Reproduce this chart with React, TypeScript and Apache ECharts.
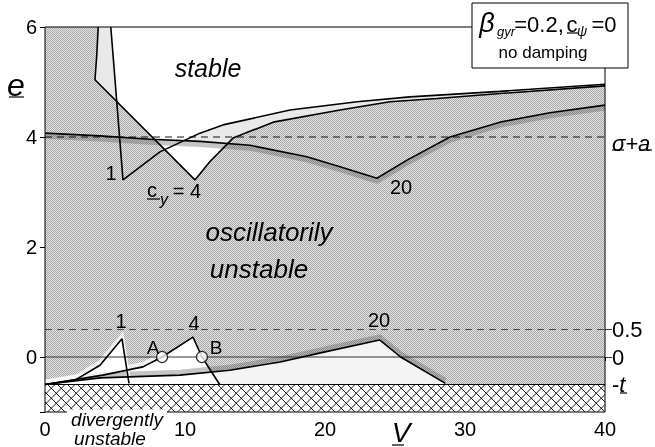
import React, { useEffect, useRef } from 'react';
import * as echarts from 'echarts';

const FONT = "'Liberation Sans', Arial, Helvetica, sans-serif";

// axes
const vMin = 0;
const vMax = 40;
const vStep = 10;
const eMin = -1;
const eMax = 6;
const eTickValues = [-1, 0, 2, 4, 6];
const eLabelValues = [0, 2, 4, 6];

// reference levels
const levelSigmaA = 4;
const levelHalf = 0.5;
const levelZero = 0;
const levelMinusT = -0.5;
const rightLabelValues = [levelSigmaA, levelHalf, levelZero, levelMinusT];
const rightLabelTexts = ['{s|σ+a}', '0.5', '0', '-{i|t}'];
const rightTickValues = [levelHalf, levelZero];

// upper stability boundaries (V, e)
const cy1Upper = [[4.7, 6], [5.57, 3.22], [8.21, 3.73], [11.07, 4.07], [12.71, 4.22], [17.5, 4.49], [22.29, 4.64], [26.07, 4.73], [32.5, 4.83], [40, 4.96]];
const cy4Upper = [[3.8, 6], [3.7, 5.5], [3.57, 5.04], [10.71, 3.22], [11.8, 3.56], [13.43, 3.98], [16.3, 4.27], [21.07, 4.49], [24.64, 4.64], [28, 4.7], [32.5, 4.79], [40, 4.93]];
const cy20Upper = [[0, 4.07], [3.93, 4.02], [7.5, 3.96], [11.07, 3.92], [14.64, 3.85], [18.7, 3.64], [21.07, 3.46], [23.71, 3.25], [25.86, 3.58], [28.93, 4.0], [32.5, 4.27], [36.07, 4.44], [40, 4.58]];

// lower stability boundaries (V, e)
const cy1Lower = [[0, -0.5], [2.14, -0.42], [3.93, -0.15], [5.5, 0.33], [6.0, -0.48]];
const cy4Lower = [[0, -0.5], [4.14, -0.33], [7.0, -0.18], [8.36, 0], [10.57, 0.36], [11.21, 0], [12.5, -0.51]];
const cy20Lower = [[0, -0.5], [3.93, -0.38], [9.64, -0.33], [13.2, -0.24], [16.8, -0.09], [19.6, 0.07], [23.9, 0.31], [25.4, 0], [28.6, -0.48]];

const pointA = [8.36, 0];
const pointB = [11.21, 0];

const LIGHT = '#e9e9e9';
const stippleSvg =
  "<svg xmlns='http://www.w3.org/2000/svg' width='2' height='2' shape-rendering='crispEdges'>" +
  "<rect width='2' height='2' fill='#e4e4e4'/><rect width='1' height='1' fill='#a8a8a8'/>" +
  "<rect x='1' y='1' width='1' height='1' fill='#a8a8a8'/></svg>";
const STIPPLE: any = {
  image: 'data:image/svg+xml;charset=utf-8,' + encodeURIComponent(stippleSvg),
  repeat: 'repeat',
  imageWidth: 2,
  imageHeight: 2,
};

type P = number[];
function segInt(a: P, b: P, c: P, d: P): P | null {
  const r = [b[0] - a[0], b[1] - a[1]];
  const s = [d[0] - c[0], d[1] - c[1]];
  const den = r[0] * s[1] - r[1] * s[0];
  if (Math.abs(den) < 1e-12) return null;
  const t = ((c[0] - a[0]) * s[1] - (c[1] - a[1]) * s[0]) / den;
  const u = ((c[0] - a[0]) * r[1] - (c[1] - a[1]) * r[0]) / den;
  if (t < 0 || t > 1 || u < 0 || u > 1) return null;
  return [a[0] + t * r[0], a[1] + t * r[1]];
}
function curveInt(A: P[], B: P[]): P {
  for (let i = 0; i < A.length - 1; i++) {
    for (let j = 0; j < B.length - 1; j++) {
      const p = segInt(A[i], A[i + 1], B[j], B[j + 1]);
      if (p) return p;
    }
  }
  return A[0];
}
const within = (c: P[], x0: number, x1: number) => c.filter((p) => p[0] > x0 && p[0] < x1);

// derived region outlines
const cy1Steep = cy1Upper.slice(0, 2);
const R1 = cy1Upper.slice(1);
const cy4Top = cy4Upper.slice(0, 3);
const D4 = cy4Upper.slice(2, 4);
const R4 = cy4Upper.slice(3);
const H20 = cy20Upper.slice(0, 8);
const X1 = curveInt(cy1Steep, D4);
const XR4H = curveInt(R4, H20);
const XR1H = curveInt(R1, H20);

const stableTop: P[] = [
  cy1Upper[0], X1, cy4Upper[3],
  ...within(R4, cy4Upper[3][0], XR4H[0]), XR4H,
  ...within(H20, XR1H[0], XR4H[0]).reverse(), XR1H,
  ...within(R1, XR1H[0], vMax + 1), [vMax, eMax],
];
const lightTopRight: P[] = [
  XR4H, ...within(R4, XR4H[0], vMax + 1),
  ...within(R1, XR1H[0], vMax + 1).reverse(), XR1H,
  ...within(H20, XR1H[0], XR4H[0]),
];
const lightTopLeft: P[] = [...cy4Top, X1, cy1Upper[0]];
const under20: P[] = [...cy20Lower, [cy20Lower[cy20Lower.length - 1][0], levelMinusT]];
const under4: P[] = [...cy4Lower, [cy4Lower[cy4Lower.length - 1][0], levelMinusT]];
const under1: P[] = [...cy1Lower, [cy1Lower[cy1Lower.length - 1][0], levelMinusT]];

function renderRegions(params: any, api: any) {
  const cs = params.coordSys;
  const px = (pts: P[]) => pts.map((p) => api.coord(p));
  const poly = (pts: P[], fill: any) => ({ type: 'polygon', shape: { points: px(pts) }, style: { fill, stroke: null } });
  const band = (pts: P[], dy: number, color: string, w: number) => ({
    type: 'polyline',
    shape: { points: px(pts).map((q: number[]) => [q[0], q[1] + dy]) },
    style: { stroke: color, lineWidth: w, fill: null },
  });
  const tl = api.coord([vMin, levelMinusT]);
  const br = api.coord([vMax, eMin]);
  const x0 = tl[0], y0 = tl[1], x1 = br[0], y1 = br[1];
  const hatch: any[] = [];
  const step = 10;
  for (let c = x0 - y1 - step; c <= x1 - y0 + step; c += step) {
    const ya = Math.max(y0, x0 - c), yb = Math.min(y1, x1 - c);
    if (yb > ya) hatch.push({ type: 'line', shape: { x1: c + ya, y1: ya, x2: c + yb, y2: yb }, style: { stroke: '#000', lineWidth: 0.9 } });
  }
  for (let c = x0 + y0 - step; c <= x1 + y1 + step; c += step) {
    const ya = Math.max(y0, c - x1), yb = Math.min(y1, c - x0);
    if (yb > ya) hatch.push({ type: 'line', shape: { x1: c - ya, y1: ya, x2: c - yb, y2: yb }, style: { stroke: '#000', lineWidth: 0.9 } });
  }
  return {
    type: 'group',
    children: [
      { type: 'rect', shape: { x: cs.x, y: cs.y, width: cs.width, height: cs.height }, style: { fill: STIPPLE, stroke: null } },
      poly(lightTopLeft, LIGHT),
      poly(lightTopRight, LIGHT),
      poly(stableTop, '#ffffff'),
      band(cy20Upper, 3, 'rgba(90,90,90,0.35)', 5),
      poly(under20, '#f4f4f4'),
      poly(under4, '#ffffff'),
      poly(under1, '#ffffff'),
      band(cy20Lower, -3, 'rgba(90,90,90,0.35)', 5),
      band(cy1Lower, -3, 'rgba(255,255,255,0.75)', 4),
      band(cy4Lower.slice(0, 4), -3, 'rgba(255,255,255,0.75)', 4),
      { type: 'rect', shape: { x: x0, y: y0, width: x1 - x0, height: y1 - y0 }, style: { fill: '#fff', stroke: null } },
      ...hatch,
    ],
  };
}

function renderBorder(params: any, api: any) {
  const cs = params.coordSys;
  return { type: 'rect', shape: { x: cs.x, y: cs.y, width: cs.width, height: cs.height }, style: { fill: null, stroke: '#000', lineWidth: 1 } };
}

const curveSeries = (data: P[], width = 1.6) => ({
  type: 'line', data, symbol: 'none', z: 4, silent: true,
  lineStyle: { color: '#000', width },
});
const levelSeries = (y: number, color: string, type: any, width = 1) => ({
  type: 'line', data: [[vMin, y], [vMax, y]], symbol: 'none', z: 3, silent: true,
  lineStyle: { color, width, type },
});

const txt = (text: string, x: number, y: number, size: number, opts: any = {}) => ({
  type: 'text', x, y, z: 100, silent: true,
  style: { text, fontSize: size, fontFamily: FONT, fill: '#000', align: 'center', verticalAlign: 'middle', ...opts },
});
const uline = (xa: number, xb: number, y: number) => ({
  type: 'line', z: 101, silent: true, shape: { x1: xa, y1: y, x2: xb, y2: y }, style: { stroke: '#000', lineWidth: 1.2 },
});

const option: any = {
  animation: false,
  grid: { left: 45, right: 50, top: 27, bottom: 35, show: false },
  xAxis: {
    type: 'value', min: vMin, max: vMax, interval: vStep,
    axisLine: { show: false },
    axisTick: { show: true, length: 4, lineStyle: { color: '#000' } },
    axisLabel: { fontSize: 20, color: '#000', fontFamily: FONT, margin: 7 },
    splitLine: { show: false },
  },
  yAxis: [
    {
      type: 'value', min: eMin, max: eMax, interval: 1,
      axisLine: { show: false },
      axisTick: { show: true, length: 5, customValues: eTickValues, lineStyle: { color: '#000' } },
      axisLabel: { fontSize: 20, color: '#000', fontFamily: FONT, margin: 8, customValues: eLabelValues },
      splitLine: { show: false },
    },
    {
      type: 'value', min: eMin, max: eMax, interval: 1, position: 'right',
      axisLine: { show: false },
      axisTick: { show: true, length: 7, customValues: rightTickValues, lineStyle: { color: '#333' } },
      axisLabel: {
        fontSize: 22, color: '#000', fontFamily: FONT, margin: 7, customValues: rightLabelValues,
        formatter: (v: number) => {
          const i = rightLabelValues.findIndex((r) => Math.abs(r - v) < 1e-6);
          return i >= 0 ? rightLabelTexts[i] : '';
        },
        rich: {
          i: { fontStyle: 'italic', fontSize: 22, fontFamily: FONT, color: '#000' },
          s: { fontStyle: 'italic', fontSize: 22, fontFamily: FONT, color: '#000', padding: [12, 0, 0, 0] },
        },
      },
      splitLine: { show: false },
    },
  ],
  series: [
    { type: 'custom', renderItem: renderRegions, data: [[0, 0]], z: 1, silent: true, clip: false },
    levelSeries(levelSigmaA, '#111', [7, 5]),
    levelSeries(levelHalf, '#444', [7, 5]),
    levelSeries(levelZero, '#333', 'solid'),
    levelSeries(levelMinusT, '#000', 'solid', 1.2),
    curveSeries(cy1Upper),
    curveSeries(cy4Upper),
    curveSeries(cy20Upper),
    curveSeries(cy1Lower),
    curveSeries(cy4Lower),
    curveSeries(cy20Lower),
    {
      type: 'scatter', data: [pointA, pointB], symbol: 'circle', symbolSize: 11, z: 6, silent: true,
      itemStyle: { color: '#fff', borderColor: '#000', borderWidth: 1.2 },
    },
    { type: 'custom', renderItem: renderBorder, data: [[0, 0]], z: 7, silent: true, clip: false },
  ],
  graphic: [
    // axis names
    txt('e', 16, 85, 32, { fontStyle: 'italic' }),
    uline(9, 24, 97),
    txt('V', 401, 432, 28, { fontStyle: 'italic' }),
    uline(392, 404, 445),
    // right-hand label underlines
    uline(612, 624, 150),
    uline(639, 652, 150),
    uline(620, 627, 393),
    // region labels
    txt('stable', 208, 68, 25, { fontStyle: 'italic' }),
    txt('oscillatorily', 269, 232, 26, { fontStyle: 'italic' }),
    txt('unstable', 259, 269, 26, { fontStyle: 'italic' }),
    txt('divergently', 117, 419, 19, { fontStyle: 'italic', backgroundColor: '#fff', padding: [0, 4, 0, 4] }),
    txt('unstable', 110, 438, 19, { fontStyle: 'italic' }),
    // curve labels
    txt('1', 111, 173, 20),
    txt('c', 152, 190, 20),
    uline(147, 160, 199),
    txt('y', 164, 199, 16, { fontStyle: 'italic' }),
    txt('= 4', 187, 191, 20),
    txt('20', 401, 187, 20),
    txt('1', 121, 321, 20),
    txt('4', 194, 323, 20),
    txt('20', 379, 320, 20),
    txt('A', 153, 347, 19),
    txt('B', 216, 347, 19),
    // legend box
    { type: 'rect', z: 99, silent: true, shape: { x: 472, y: 3, width: 156, height: 65 }, style: { fill: '#fff', stroke: '#000', lineWidth: 1 } },
    txt('β', 487, 23, 27, { fontStyle: 'italic' }),
    txt('gyr', 506, 31, 13, { fontStyle: 'italic' }),
    txt('=0.2,', 539, 24, 22),
    txt('c', 572, 24, 22),
    uline(567, 578, 33),
    txt('ψ', 582, 31, 14, { fontStyle: 'italic' }),
    txt('=0', 604, 24, 22),
    txt('no damping', 543, 52, 17),
  ],
};

export default function App() {
  const ref = useRef<HTMLDivElement>(null);
  useEffect(() => {
    const chart = echarts.init(ref.current!, null, { renderer: 'svg' });
    chart.setOption(option);
    return () => chart.dispose();
  }, []);
  return <div ref={ref} style={{ position: 'fixed', left: 0, top: 0, width: 655, height: 447 }} />;
}
